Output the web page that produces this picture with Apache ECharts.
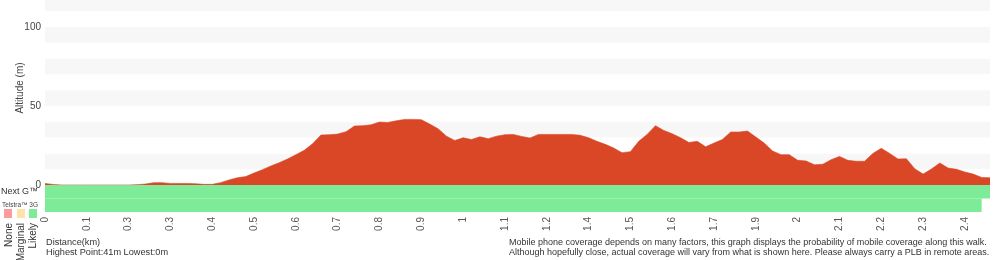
<!DOCTYPE html>
<html>
<head>
<meta charset="utf-8">
<style>
  html, body { margin: 0; padding: 0; background: #fff; }
  #chart { width: 1000px; height: 260px; }
</style>
<script src="https://cdn.jsdelivr.net/npm/echarts@6/dist/echarts.min.js"></script>
</head>
<body>
<div id="chart"></div>
<script>
// ---- data ----
const tickLabels = ['0','0.1','0.3','0.3','0.4','0.5','0.6','0.7','0.8','0.9','1','1.1','1.2','1.4','1.5','1.6','1.7','1.9','2','2.1','2.2','2.3','2.4'];
const labelEvery = 5;
const altitude = [
  1, 0.3, 0, 0, 0, 0, 0, 0, 0, 0,
  0, 0.2, 0.6, 1.5, 1.5, 1, 1, 1, 0.8, 0.4,
  0.4, 1.5, 3.2, 4.6, 5.3, 7.6, 9.7, 12, 14.1, 16.4,
  19.2, 21.9, 26.1, 31.6, 31.8, 32.2, 33.7, 37.3, 37.5, 38.1,
  39.8, 39.6, 40.6, 41.5, 41.5, 41.3, 38.5, 35.6, 30.9, 28.2,
  29.9, 28.8, 30.5, 29.3, 30.9, 31.8, 32, 30.7, 29.7, 32,
  32, 32, 32, 32, 31.4, 29.9, 27.6, 25.7, 23.4, 20.4,
  21.1, 27.6, 32, 37.5, 34.5, 32.4, 29.9, 26.9, 27.6, 24.2,
  26.5, 28.8, 33.5, 33.5, 34.1, 30.3, 26.5, 21.5, 19.2, 19.2,
  15.6, 15.2, 12.8, 13.1, 16, 18.1, 15.6, 15, 15, 20,
  23.2, 20, 16.4, 16.6, 10.3, 6.9, 10.1, 13.9, 10.7, 9.9,
  8.2, 6.9, 4.8, 4.6
];
const networks = ['Telstra™ 3G', 'Next G™'];           // bottom row first
const coverageLevels = ['None', 'Marginal', 'Likely'];
const nextGCoverage = [[0, 113, 'Likely']];            // [fromPoint, toPoint, level]
const telstra3GCoverage = [[0, 112, 'Likely']];
const altTicks = [0, 50, 100];

// ---- styles ----
const levelColors = { None: '#f99c9c', Marginal: '#fde3a8', Likely: '#7eeb99' };
const FONT = 'Liberation Sans, Arial, Helvetica, sans-serif';
const categories = altitude.map((_, i) => String(i));

const coverageData = [];
telstra3GCoverage.forEach(r => coverageData.push([r[0], r[1], 0, coverageLevels.indexOf(r[2])]));
nextGCoverage.forEach(r => coverageData.push([r[0], r[1], 1, coverageLevels.indexOf(r[2])]));

const chart = echarts.init(document.getElementById('chart'), null, { renderer: 'canvas' });
chart.setOption({
  animation: false,
  textStyle: { fontFamily: FONT },
  grid: [
    { left: 45, right: 10, top: 0, height: 185, containLabel: false, outerBoundsMode: 'none' },
    { left: 45, right: 10, top: 185, height: 27, containLabel: false, outerBoundsMode: 'none' }
  ],
  xAxis: [
    { type: 'category', gridIndex: 0, data: categories, boundaryGap: false,
      axisLine: { show: false }, axisTick: { show: false }, axisLabel: { show: false }, splitLine: { show: false } },
    { type: 'category', gridIndex: 1, data: categories, boundaryGap: false,
      axisLine: { show: false }, axisTick: { show: false }, splitLine: { show: false },
      axisLabel: { interval: labelEvery - 1, rotate: 90, margin: 5, fontSize: 10, color: '#555', fontFamily: FONT,
        formatter: (v, i) => (i % labelEvery === 0 && tickLabels[i / labelEvery] !== undefined) ? tickLabels[i / labelEvery] : '' } }
  ],
  yAxis: [
    { type: 'value', gridIndex: 0, min: 0, max: 117, interval: 10,
      axisLine: { show: false }, axisTick: { show: false }, splitLine: { show: false },
      splitArea: { show: true, areaStyle: { color: ['#ffffff', '#f7f7f7'] } },
      axisLabel: { fontSize: 10, color: '#444', margin: 4, fontFamily: FONT,
        formatter: v => altTicks.indexOf(v) >= 0 ? String(v) : '' } },
    { type: 'category', gridIndex: 1, data: networks,
      axisLine: { show: false }, axisTick: { show: false }, splitLine: { show: false },
      axisLabel: { interval: 0, margin: 7, color: '#333', fontFamily: FONT, hideOverlap: false,
        formatter: v => v === 'Next G™' ? '{a|' + v + '}' : '{b|' + v + '}',
        rich: { a: { fontSize: 9, color: '#333', fontFamily: FONT }, b: { fontSize: 6.5, color: '#444', fontFamily: FONT } } } }
  ],
  series: [
    { type: 'line', xAxisIndex: 0, yAxisIndex: 0, data: altitude, symbol: 'none', smooth: false,
      lineStyle: { width: 0.6, color: '#d94727' }, areaStyle: { color: '#d94727', opacity: 1 } },
    { type: 'custom', xAxisIndex: 1, yAxisIndex: 1, data: coverageData,
      encode: { x: [0, 1], y: 2 },
      renderItem: (params, api) => {
        const s = api.coord([api.value(0), api.value(2)]);
        const e = api.coord([api.value(1), api.value(2)]);
        const h = api.size([0, 1])[1];
        return { type: 'rect',
          shape: { x: s[0], y: s[1] - h / 2, width: e[0] - s[0], height: h },
          style: { fill: levelColors[coverageLevels[api.value(3)]] } };
      } }
  ],
  graphic: [
    { type: 'text', x: 20, y: 88, rotation: Math.PI / 2,
      style: { text: 'Altitude (m)', fontSize: 10, fill: '#444', align: 'center', verticalAlign: 'middle', fontFamily: FONT } },
    { type: 'rect', left: 4, top: 209, shape: { width: 8, height: 9 }, style: { fill: levelColors.None } },
    { type: 'rect', left: 17, top: 209, shape: { width: 8, height: 9 }, style: { fill: levelColors.Marginal } },
    { type: 'rect', left: 29, top: 209, shape: { width: 8, height: 9 }, style: { fill: levelColors.Likely } },
    { type: 'text', x: 9, y: 223, rotation: Math.PI / 2,
      style: { text: coverageLevels[0], fontSize: 10, fill: '#333', align: 'right', verticalAlign: 'middle', fontFamily: FONT } },
    { type: 'text', x: 21, y: 223, rotation: Math.PI / 2,
      style: { text: coverageLevels[1], fontSize: 10, fill: '#333', align: 'right', verticalAlign: 'middle', fontFamily: FONT } },
    { type: 'text', x: 33, y: 223, rotation: Math.PI / 2,
      style: { text: coverageLevels[2], fontSize: 10, fill: '#333', align: 'right', verticalAlign: 'middle', fontFamily: FONT } },
    { type: 'text', x: 46, y: 237,
      style: { text: 'Distance(km)\nHighest Point:41m Lowest:0m', fontSize: 9.2, lineHeight: 10, fill: '#333', fontFamily: FONT } },
    { type: 'text', x: 509, y: 238,
      style: { text: 'Mobile phone coverage depends on many factors, this graph displays the probability of mobile coverage along this walk.\nAlthough hopefully close, actual coverage will vary from what is shown here. Please always carry a PLB in remote areas.',
        fontSize: 9, lineHeight: 10, fill: '#333', fontFamily: FONT } }
  ]
});
</script>
</body>
</html>
